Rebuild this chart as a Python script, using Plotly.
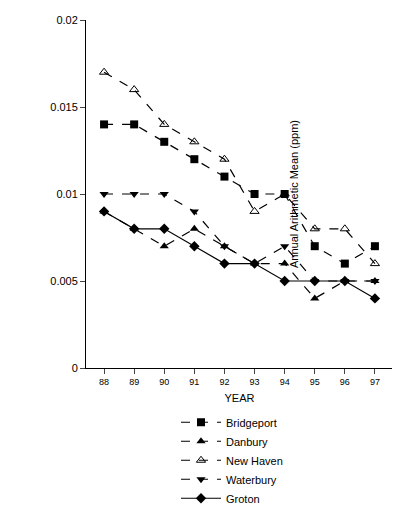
import plotly.graph_objects as go

years = ["88", "89", "90", "91", "92", "93", "94", "95", "96", "97"]
bridgeport = [0.014, 0.014, 0.013, 0.012, 0.011, 0.010, 0.010, 0.007, 0.006, 0.007]
danbury = [0.009, 0.008, 0.007, 0.008, 0.007, 0.006, 0.006, 0.004, 0.005, 0.005]
new_haven = [0.017, 0.016, 0.014, 0.013, 0.012, 0.009, 0.010, 0.008, 0.008, 0.006]
waterbury = [0.010, 0.010, 0.010, 0.009, 0.007, 0.006, 0.007, 0.005, 0.005, 0.005]
groton = [0.009, 0.008, 0.008, 0.007, 0.006, 0.006, 0.005, 0.005, 0.005, 0.004]

series = [
    ("Bridgeport", bridgeport, "square", "dash", "black"),
    ("Danbury", danbury, "triangle-up", "dash", "black"),
    ("New Haven", new_haven, "triangle-up-open", "dash", "black"),
    ("Waterbury", waterbury, "triangle-down", "dash", "black"),
    ("Groton", groton, "diamond", "solid", "black"),
]

fig = go.Figure()
for name, vals, sym, dash, col in series:
    fig.add_trace(go.Scatter(
        x=years, y=vals, name=name, mode="lines+markers",
        line={"color": col, "width": 1.2, "dash": dash},
        marker={"symbol": sym, "size": 8, "color": col},
    ))

fig.update_layout(
    width=400, height=506,
    paper_bgcolor="white", plot_bgcolor="white",
    font={"family": "Liberation Sans", "size": 11, "color": "black"},
    margin={"l": 78, "r": 15, "t": 12, "b": 146, "autoexpand": False},
    showlegend=True,
    legend={"x": 0.42, "y": 0.21, "xref": "container", "yref": "container",
            "xanchor": "left", "yanchor": "top",
            "font": {"size": 11}, "tracegroupgap": 0, "itemwidth": 40},
)
fig.update_xaxes(
    title={"text": "YEAR", "font": {"size": 11}, "standoff": 8},
    showline=True, linecolor="black", ticks="outside", tickfont={"size": 9},
    range=[-0.6, 9.6], mirror=False,
)
fig.update_yaxes(
    title={"text": "Annual Arithmetic Mean (ppm)", "font": {"size": 11}},
    range=[0, 0.02], tickvals=[0, 0.005, 0.01, 0.015, 0.02],
    ticktext=["0", "0.005", "0.01", "0.015", "0.02"],
    showline=True, linecolor="black", ticks="outside", showgrid=False,
    zeroline=False,
)
fig.write_html("out.html")
